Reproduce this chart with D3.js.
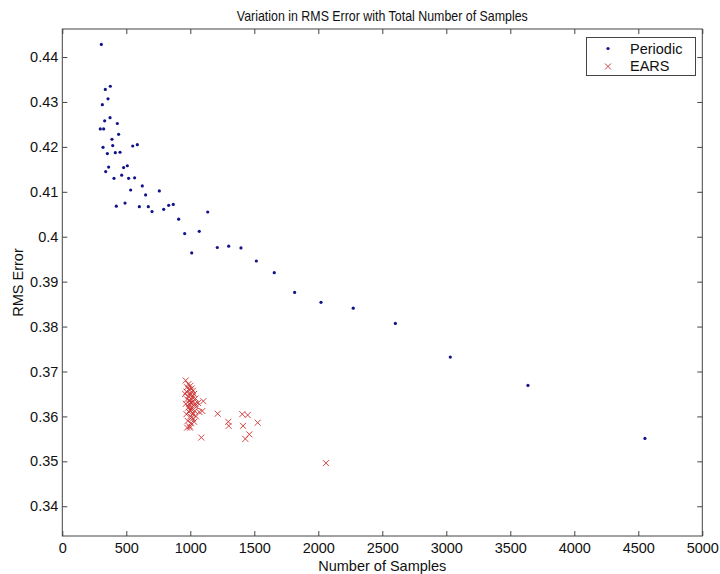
<!DOCTYPE html>
<html>
<head>
<meta charset="utf-8">
<script src="https://cdn.jsdelivr.net/npm/d3@7"></script>
<style>
  body { margin: 0; background: #fff; }
  text { font-family: "Liberation Sans", Arial, sans-serif; fill: #111; }
</style>
</head>
<body>
<div id="chart"></div>
<script>
// Periodic sampling: [number of samples, rms error]
const periodic = [
  [305, 0.4428], [375, 0.4335], [336, 0.4328], [357, 0.4307], [313, 0.4294],
  [373, 0.4265], [331, 0.4258], [430, 0.4252], [297, 0.4240], [323, 0.4240],
  [440, 0.4228], [388, 0.4217], [318, 0.4199], [394, 0.4203], [550, 0.4202],
  [586, 0.4205], [352, 0.4185], [414, 0.4187], [451, 0.4188], [362, 0.4155],
  [339, 0.4145], [479, 0.4154], [508, 0.4158], [404, 0.4130], [464, 0.4137],
  [518, 0.4130], [565, 0.4131], [625, 0.4113], [534, 0.4104], [651, 0.4093],
  [758, 0.4102], [422, 0.4068], [490, 0.4075], [602, 0.4067], [672, 0.4067],
  [701, 0.4056], [792, 0.4061], [831, 0.4070], [867, 0.4072], [1136, 0.4055],
  [909, 0.4039], [956, 0.4007], [1070, 0.4012], [1011, 0.3964], [1211, 0.3976],
  [1300, 0.3979], [1396, 0.3975], [1516, 0.3946], [1656, 0.3920], [1815, 0.3876],
  [2021, 0.3854], [2273, 0.3841], [2602, 0.3807], [3031, 0.3732], [3638, 0.3669],
  [4552, 0.3551]
];

// EARS sampling: [number of samples, rms error]
const ears = [
  [964, 0.3680], [985, 0.3672], [975, 0.3665], [1000, 0.3668], [1010, 0.3662],
  [990, 0.3660], [970, 0.3655], [1020, 0.3657], [960, 0.3650], [1000, 0.3652],
  [1030, 0.3650], [985, 0.3645], [1015, 0.3643], [975, 0.3638], [1040, 0.3640],
  [995, 0.3635], [1005, 0.3630], [965, 0.3628], [1025, 0.3625], [985, 0.3620],
  [1050, 0.3622], [1010, 0.3615], [990, 0.3610], [1035, 0.3612], [970, 0.3605],
  [1000, 0.3600], [1020, 0.3595], [980, 0.3590], [1005, 0.3585], [995, 0.3578],
  [1030, 0.3588], [1060, 0.3630], [1070, 0.3610], [1045, 0.3600], [975, 0.3575],
  [998, 0.3575], [1002, 0.3648], [1012, 0.3638], [992, 0.3628], [1018, 0.3632],
  [1008, 0.3620], [998, 0.3614], [1022, 0.3605], [1012, 0.3598], [1040, 0.3628],
  [1102, 0.3634], [1094, 0.3612], [1086, 0.3553], [1214, 0.3606],
  [1297, 0.3588], [1300, 0.3579], [1406, 0.3605], [1448, 0.3603], [1412, 0.3579],
  [1526, 0.3586], [1461, 0.3560], [1430, 0.3550], [2060, 0.3496]
];

const xTicks = d3.range(0, 5001, 500);
const yTicks = [0.34, 0.35, 0.36, 0.37, 0.38, 0.39, 0.40, 0.41, 0.42, 0.43, 0.44];
const seriesNames = ["Periodic", "EARS"];

const width = 720, height = 574;
const mLeft = 62.3, mRight = 702.3, mTop = 29, mBottom = 536;

const svg = d3.select("#chart").append("svg")
    .attr("width", width)
    .attr("height", height);

const x = d3.scaleLinear().domain([0, 5000]).range([mLeft, mRight]);
const y = d3.scaleLinear().domain([0.33338, 0.44624]).range([mBottom, mTop]);

const blue = "#12128a", red = "#cc3030";

// ticks point inward, like matlab
svg.append("g")
    .attr("transform", `translate(0,${mBottom})`)
    .call(d3.axisBottom(x).tickValues(xTicks).tickSize(-5).tickPadding(7).tickFormat(d3.format("d")))
    .call(g => g.select(".domain").remove())
    .selectAll("text").style("font-size", "14.5px");

svg.append("g")
    .attr("transform", `translate(0,${mTop})`)
    .call(d3.axisTop(x).tickValues(xTicks).tickSize(-5).tickFormat(""))
    .call(g => g.select(".domain").remove());

svg.append("g")
    .attr("transform", `translate(${mLeft},0)`)
    .call(d3.axisLeft(y).tickValues(yTicks).tickSize(-5).tickPadding(4).tickFormat(d3.format("~g")))
    .call(g => g.select(".domain").remove())
    .selectAll("text").style("font-size", "14.5px");

svg.append("g")
    .attr("transform", `translate(${mRight},0)`)
    .call(d3.axisRight(y).tickValues(yTicks).tickSize(-5).tickFormat(""))
    .call(g => g.select(".domain").remove());

svg.selectAll(".tick line").attr("stroke", "#444");

svg.append("rect")
    .attr("x", mLeft).attr("y", mTop)
    .attr("width", mRight - mLeft).attr("height", mBottom - mTop)
    .attr("fill", "none").attr("stroke", "#444").attr("stroke-width", 1);

// points
svg.append("g").selectAll("circle")
    .data(periodic)
    .enter().append("circle")
    .attr("cx", d => x(d[0]))
    .attr("cy", d => y(d[1]))
    .attr("r", 1.6)
    .attr("fill", blue);

function cross(g, cx, cy, s) {
    g.append("path")
        .attr("d", `M${cx - s},${cy - s}L${cx + s},${cy + s}M${cx - s},${cy + s}L${cx + s},${cy - s}`)
        .attr("stroke", red).attr("stroke-width", 0.9).attr("fill", "none");
}
const eg = svg.append("g");
ears.forEach(d => cross(eg, x(d[0]), y(d[1]), 3));

// titles
svg.append("text")
    .attr("x", (mLeft + mRight) / 2).attr("y", 21)
    .attr("text-anchor", "middle")
    .attr("textLength", 291).attr("lengthAdjust", "spacingAndGlyphs")
    .style("font-size", "15px")
    .text("Variation in RMS Error with Total Number of Samples");

svg.append("text")
    .attr("x", (mLeft + mRight) / 2).attr("y", 571)
    .attr("text-anchor", "middle")
    .style("font-size", "14.5px")
    .text("Number of Samples");

svg.append("text")
    .attr("transform", `translate(23,${(mTop + mBottom) / 2}) rotate(-90)`)
    .attr("text-anchor", "middle")
    .style("font-size", "14.5px")
    .text("RMS Error");

// legend
const lg = svg.append("g");
lg.append("rect")
    .attr("x", 586.5).attr("y", 37.5).attr("width", 109).attr("height", 38)
    .attr("fill", "#fff").attr("stroke", "#444");
lg.append("circle").attr("cx", 608).attr("cy", 48.5).attr("r", 1.6).attr("fill", blue);
cross(lg, 608, 66.5, 3);
lg.selectAll("text.leg")
    .data(seriesNames)
    .enter().append("text")
    .attr("class", "leg")
    .attr("x", 630)
    .attr("y", (d, i) => 53.5 + i * 17.5)
    .style("font-size", "14.5px")
    .text(d => d);
</script>
</body>
</html>
